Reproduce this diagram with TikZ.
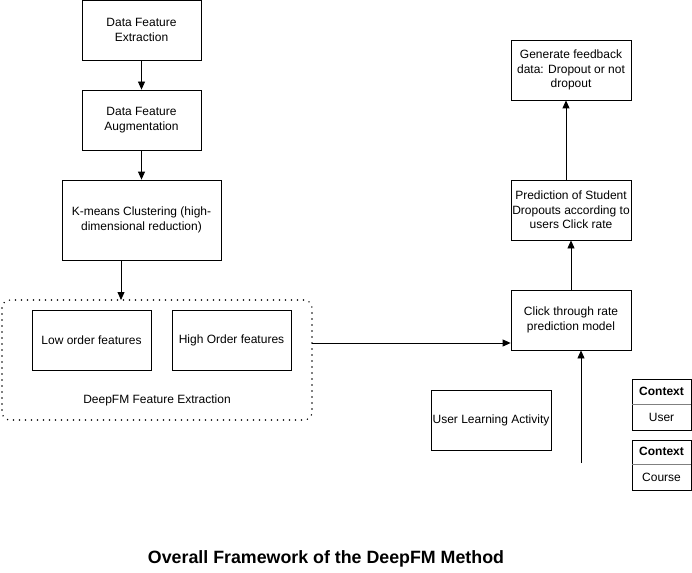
\documentclass[tikz,border=0pt]{standalone}
\usepackage{fontspec}
\setmainfont{Liberation Sans}
\usetikzlibrary{arrows.meta}
\begin{document}
\begin{tikzpicture}[x=1pt,y=-1pt,
  box/.style={draw, line width=0.8pt, align=center, font=\fontsize{12}{14.5}\selectfont, inner sep=0pt},
  arr/.style={line width=0.8pt, -{Triangle[length=8pt,width=7pt]}},
  lbl/.style={font=\fontsize{12}{14.5}\selectfont, align=center}]
\useasboundingbox (0,0) rectangle (692,572);
% left column
\node[box, minimum width=119pt, minimum height=60pt] (dfe) at (141.5,30) {Data Feature\\Extraction};
\node[box, minimum width=119pt, minimum height=60pt] (dfa) at (141.5,120) {Data Feature\\Augmentation};
\node[box, minimum width=159pt, minimum height=80pt] (km) at (141.5,220) {K-means Clustering (high-\\dimensional reduction)};
\draw[line width=1.6pt, line cap=round, dash pattern=on 0pt off 6pt, rounded corners=8pt] (2,300) rectangle (312,420);
\coordinate (dtop) at (121,300);
\coordinate (dright) at (312,343);
\node[box, minimum width=119pt, minimum height=60pt] (low) at (91.5,340) {Low order features};
\node[box, minimum width=119pt, minimum height=60pt] (high) at (231.5,340) {High Order features};
\node[lbl] (dlab) at (157,400) {DeepFM Feature Extraction};
\draw[arr] (dfe) -- (dfa);
\draw[arr] (dfa) -- (km);
\draw[arr] (km.south -| dtop) -- (dtop);
% right column
\node[box, minimum width=120pt, minimum height=60pt] (gen) at (571,70) {Generate feedback\\data: Dropout or not\\dropout};
\node[box, minimum width=120pt, minimum height=60pt] (pred) at (571,210) {Prediction of Student\\Dropouts according to\\users Click rate};
\node[box, minimum width=120pt, minimum height=60pt] (ctr) at (571,320) {Click through rate\\prediction model};
\node[box, minimum width=120pt, minimum height=60pt] (ula) at (491,420) {User Learning Activity};
\coordinate (bot) at (581,463);
\draw[arr] (dright) -- (dright -| ctr.west);
\draw[arr] (ctr.north) -- (pred.south);
\draw[arr] ([xshift=-5pt]pred.north) -- ([xshift=-5pt]gen.south);
\draw[arr] (bot) -- (bot |- ctr.south);
% context boxes
\node[box, minimum width=59pt, minimum height=51pt] (cu) at (661.5,405) {};
\draw[line width=0.5pt, gray] (cu.west |- 0,404) -- (cu.east |- 0,404);
\node[lbl, font=\fontsize{12}{14.5}\selectfont\bfseries] (cut) at (661.5,391.5) {Context};
\node[lbl] (cub) at (661.5,417.5) {User};
\node[box, minimum width=59pt, minimum height=50pt] (cc) at (661.5,465) {};
\draw[line width=0.5pt, gray] (cc.west |- 0,464) -- (cc.east |- 0,464);
\node[lbl, font=\fontsize{12}{14.5}\selectfont\bfseries] (cct) at (661.5,451.5) {Context};
\node[lbl] (ccb) at (661.5,477.5) {Course};
% title
\node[font=\fontsize{17.8}{20}\selectfont\bfseries] (title) at (326,559) {Overall Framework of the DeepFM Method};
\end{tikzpicture}
\end{document}
